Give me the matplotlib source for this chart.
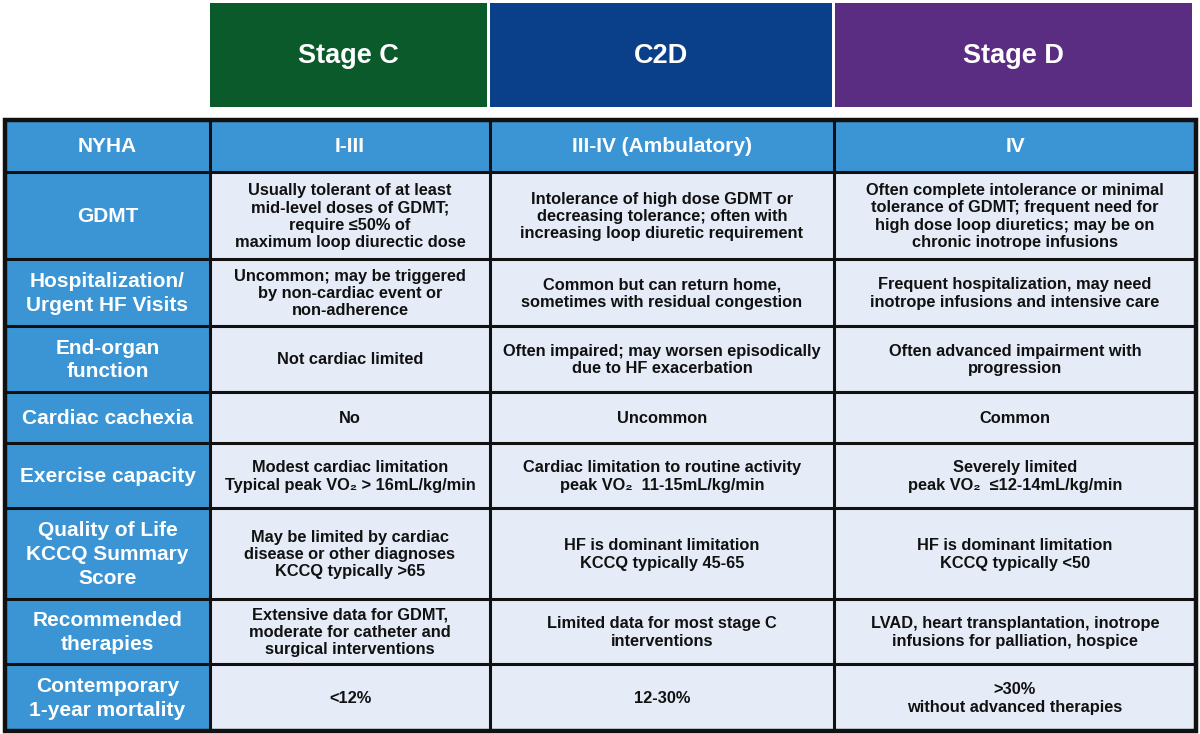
import matplotlib
matplotlib.use("Agg")
import matplotlib.pyplot as plt
from matplotlib.patches import Rectangle

FONT = ['Liberation Sans Narrow', 'Liberation Sans', 'DejaVu Sans']

# ---- data ----
stages = ["Stage C", "C2D", "Stage D"]
stage_colors = ["#0b5a2b", "#0a3f8a", "#5b2d82"]

row_labels = [
    "NYHA",
    "GDMT",
    "Hospitalization/\nUrgent HF Visits",
    "End-organ\nfunction",
    "Cardiac cachexia",
    "Exercise capacity",
    "Quality of Life\nKCCQ Summary\nScore",
    "Recommended\ntherapies",
    "Contemporary\n1-year mortality",
]

nyha = ["I-III", "III-IV (Ambulatory)", "IV"]

stage_c = [
    "Usually tolerant of at least\nmid-level doses of GDMT;\nrequire \u226450% of\nmaximum loop diurectic dose",
    "Uncommon; may be triggered\nby non-cardiac event or\nnon-adherence",
    "Not cardiac limited",
    "No",
    "Modest cardiac limitation\nTypical peak VO\u2082 > 16mL/kg/min",
    "May be limited by cardiac\ndisease or other diagnoses\nKCCQ typically >65",
    "Extensive data for GDMT,\nmoderate for catheter and\nsurgical interventions",
    "<12%",
]
c2d = [
    "Intolerance of high dose GDMT or\ndecreasing tolerance; often with\nincreasing loop diuretic requirement",
    "Common but can return home,\nsometimes with residual congestion",
    "Often impaired; may worsen episodically\ndue to HF exacerbation",
    "Uncommon",
    "Cardiac limitation to routine activity\npeak VO\u2082  11-15mL/kg/min",
    "HF is dominant limitation\nKCCQ typically 45-65",
    "Limited data for most stage C\ninterventions",
    "12-30%",
]
stage_d = [
    "Often complete intolerance or minimal\ntolerance of GDMT; frequent need for\nhigh dose loop diuretics; may be on\nchronic inotrope infusions",
    "Frequent hospitalization, may need\ninotrope infusions and intensive care",
    "Often advanced impairment with\nprogression",
    "Common",
    "Severely limited\npeak VO\u2082  \u226412-14mL/kg/min",
    "HF is dominant limitation\nKCCQ typically <50",
    "LVAD, heart transplantation, inotrope\ninfusions for palliation, hospice",
    ">30%\nwithout advanced therapies",
]

# ---- layout (pixels) ----
W, H = 1200, 734
col_x = [5, 210, 490, 834, 1196]
row_y = [120, 172, 259, 326, 392, 443, 508, 599, 664, 731]
hdr_boxes = [(210, 487), (490, 832), (835, 1192)]
hdr_y = (3, 107)

BLUE = "#3b95d5"
CELL = "#e5ecf7"

fig = plt.figure(figsize=(W / 100, H / 100), dpi=100)
ax = fig.add_axes([0, 0, 1, 1])
ax.set_xlim(0, W)
ax.set_ylim(H, 0)
ax.axis("off")

# stage header boxes
for (x0, x1), name, colr in zip(hdr_boxes, stages, stage_colors):
    ax.add_patch(Rectangle((x0, hdr_y[0]), x1 - x0, hdr_y[1] - hdr_y[0],
                           facecolor=colr, edgecolor="none"))
    ax.text((x0 + x1) / 2, (hdr_y[0] + hdr_y[1]) / 2 + 1, name, color="white",
            fontsize=19.5, fontweight="bold", family=FONT, ha="center", va="center")

body = [stage_c, c2d, stage_d]

nrows = len(row_labels)
for r in range(nrows):
    y0, y1 = row_y[r], row_y[r + 1]
    yc = (y0 + y1) / 2
    for c in range(4):
        x0, x1 = col_x[c], col_x[c + 1]
        is_hdr = (c == 0) or (r == 0)
        ax.add_patch(Rectangle((x0, y0), x1 - x0, y1 - y0,
                               facecolor=BLUE if is_hdr else CELL, edgecolor="none"))
        if c == 0:
            txt = row_labels[r]
        elif r == 0:
            txt = nyha[c - 1]
        else:
            txt = body[c - 1][r - 1]
        if is_hdr:
            ax.text((x0 + x1) / 2, yc + 1, txt, color="white", fontsize=15,
                    fontweight="bold", family=FONT, ha="center", va="center",
                    multialignment="center", linespacing=1.32)
        else:
            ax.text((x0 + x1) / 2, yc + 1, txt, color="#111111", fontsize=11.8,
                    fontweight="bold", family=FONT, ha="center", va="center",
                    multialignment="center", linespacing=1.17)

# grid lines
for y in row_y[1:-1]:
    ax.plot([col_x[0], col_x[-1]], [y, y], color="#111111", lw=2.2, solid_capstyle="butt")
for x in col_x[1:-1]:
    ax.plot([x, x], [row_y[0], row_y[-1]], color="#111111", lw=2.2, solid_capstyle="butt")
ax.add_patch(Rectangle((col_x[0], row_y[0]), col_x[-1] - col_x[0], row_y[-1] - row_y[0],
                       facecolor="none", edgecolor="#111111", lw=3.2))

fig.savefig("out.png", dpi=100)
